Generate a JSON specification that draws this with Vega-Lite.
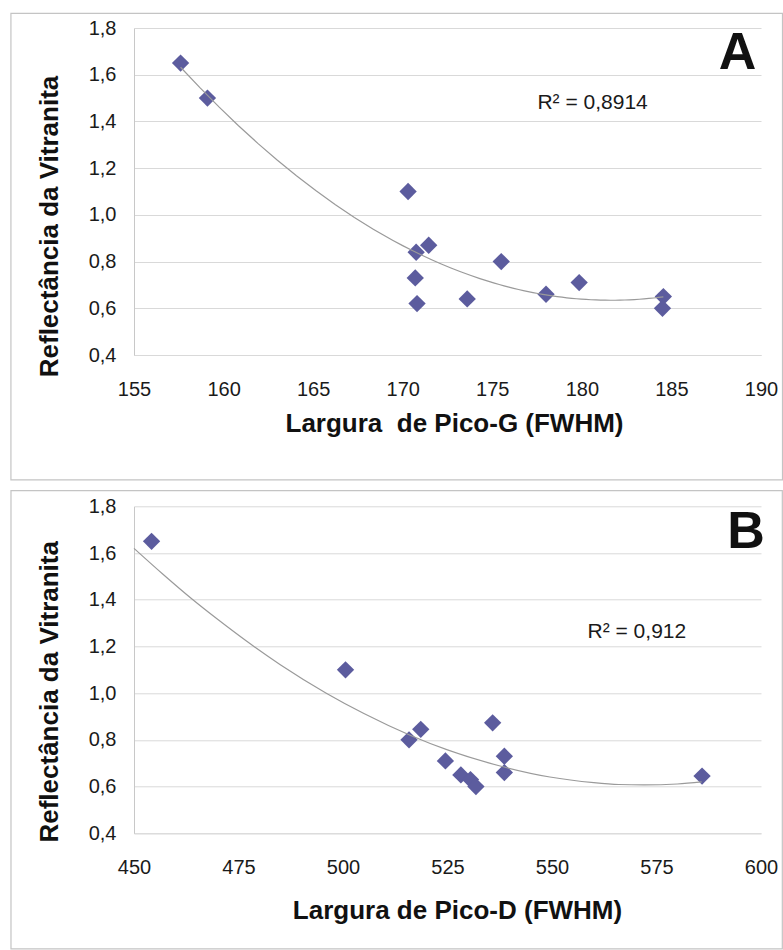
{
  "$schema": "https://vega.github.io/schema/vega-lite/v6.json",
  "padding": {"left": 10, "top": 12, "right": 1, "bottom": 1},
  "autosize": {"type": "pad"},
  "background": "white",
  "spacing": 151.3,
  "bounds": "flush",
  "config": {
    "view": {"stroke": null},
    "font": "Liberation Sans",
    "axisY": {
      "grid": true, "gridColor": "#d9d9d9", "gridWidth": 1,
      "domain": true, "domainColor": "#c8c8c8", "ticks": false,
      "labelPadding": 18, "labelFontSize": 20, "labelColor": "#1a1a1a", "labelFont": "Liberation Sans",
      "titleFontSize": 26, "titleFontWeight": "bold", "titleColor": "#111111", "titleFont": "Liberation Sans",
      "values": [0.4, 0.6, 0.8, 1.0, 1.2, 1.4, 1.6, 1.8],
      "labelExpr": "replace(format(datum.value, '.1f'), '.', ',')",
      "labelFlush": false, "labelOverlap": false
    },
    "axisX": {
      "grid": false, "domain": true, "domainColor": "#d9d9d9", "ticks": false,
      "labelPadding": 24, "labelFontSize": 20, "labelColor": "#1a1a1a", "labelFont": "Liberation Sans",
      "titleFontSize": 26, "titleFontWeight": "bold", "titleColor": "#111111", "titleFont": "Liberation Sans",
      "labelFlush": false, "labelOverlap": false, "format": "d"
    }
  },
  "datasets": {
    "A": [
      {"fwhm": 157.6, "ref": 1.65}, {"fwhm": 159.1, "ref": 1.50}, {"fwhm": 170.3, "ref": 1.10},
      {"fwhm": 170.75, "ref": 0.84}, {"fwhm": 171.45, "ref": 0.87}, {"fwhm": 170.7, "ref": 0.73},
      {"fwhm": 170.8, "ref": 0.62}, {"fwhm": 173.6, "ref": 0.64}, {"fwhm": 175.5, "ref": 0.80},
      {"fwhm": 178.0, "ref": 0.66}, {"fwhm": 179.85, "ref": 0.71}, {"fwhm": 184.55, "ref": 0.65},
      {"fwhm": 184.5, "ref": 0.60}
    ],
    "B": [
      {"fwhm": 454.2, "ref": 1.65}, {"fwhm": 500.6, "ref": 1.10}, {"fwhm": 515.8, "ref": 0.80},
      {"fwhm": 518.6, "ref": 0.845}, {"fwhm": 535.8, "ref": 0.873}, {"fwhm": 524.5, "ref": 0.71},
      {"fwhm": 528.2, "ref": 0.65}, {"fwhm": 530.5, "ref": 0.63}, {"fwhm": 531.8, "ref": 0.60},
      {"fwhm": 538.6, "ref": 0.73}, {"fwhm": 538.6, "ref": 0.66}, {"fwhm": 585.9, "ref": 0.645}
    ],
    "Btrend": [
      {"fwhm": 450, "ref": 1.62}, {"fwhm": 457, "ref": 1.508}, {"fwhm": 463.8, "ref": 1.404},
      {"fwhm": 470, "ref": 1.316}, {"fwhm": 476.9, "ref": 1.223}, {"fwhm": 485, "ref": 1.122},
      {"fwhm": 496, "ref": 1.0}, {"fwhm": 505, "ref": 0.913}, {"fwhm": 516.2, "ref": 0.819},
      {"fwhm": 525, "ref": 0.757}, {"fwhm": 537.6, "ref": 0.688}, {"fwhm": 549.5, "ref": 0.641},
      {"fwhm": 560, "ref": 0.617}, {"fwhm": 566, "ref": 0.609}, {"fwhm": 572, "ref": 0.607},
      {"fwhm": 580, "ref": 0.611}, {"fwhm": 585.8, "ref": 0.62}
    ],
    "one": [{"k": 1}]
  },
  "vconcat": [
    {
      "width": 627, "height": 327,
      "layer": [
        {
          "data": {"name": "one"},
          "mark": {"type": "rect", "fill": null, "stroke": "#c4c4c4", "strokeWidth": 1.2, "clip": false},
          "encoding": {
            "x": {"datum": 148.13, "type": "quantitative", "scale": {"domain": [155, 190], "nice": false, "zero": false}},
            "x2": {"datum": 191.2},
            "y": {"datum": 1.863, "type": "quantitative", "scale": {"domain": [0.4, 1.8], "nice": false, "zero": false}},
            "y2": {"datum": -0.135}
          }
        },
        {
          "data": {"name": "A"},
          "mark": {"type": "point", "shape": "diamond", "filled": true, "size": 300, "color": "#5c5c9e", "opacity": 1},
          "encoding": {
            "x": {"field": "fwhm", "type": "quantitative", "title": "Largura \u00a0de Pico-G (FWHM)",
                  "scale": {"domain": [155, 190], "nice": false, "zero": false},
                  "axis": {"values": [155, 160, 165, 170, 175, 180, 185, 190], "titleX": 320, "titleY": 76.7, "titleBaseline": "alphabetic"}},
            "y": {"field": "ref", "type": "quantitative", "title": "Reflectância da Vitranita",
                  "scale": {"domain": [0.4, 1.8], "nice": false, "zero": false},
                  "axis": {"titleX": -77, "titleY": 198, "titleBaseline": "alphabetic"}}
          }
        },
        {
          "data": {"name": "A"},
          "transform": [{"regression": "ref", "on": "fwhm", "method": "poly", "order": 2, "extent": [157.6, 184.55]}],
          "mark": {"type": "line", "color": "#9a9a9a", "strokeWidth": 1.2},
          "encoding": {
            "x": {"field": "fwhm", "type": "quantitative", "scale": {"domain": [155, 190], "nice": false, "zero": false}},
            "y": {"field": "ref", "type": "quantitative", "scale": {"domain": [0.4, 1.8], "nice": false, "zero": false}}
          }
        },
        {
          "data": {"name": "one"},
          "mark": {"type": "text", "text": "R² = 0,8914", "fontSize": 21, "align": "center", "baseline": "middle", "color": "#1a1a1a", "font": "Liberation Sans"},
          "encoding": {
            "x": {"datum": 180.6, "type": "quantitative"},
            "y": {"datum": 1.478, "type": "quantitative"}
          }
        },
        {
          "data": {"name": "one"},
          "mark": {"type": "text", "text": "A", "fontSize": 52, "fontWeight": "bold", "align": "center", "baseline": "alphabetic", "color": "#111111", "font": "Liberation Sans"},
          "encoding": {
            "x": {"datum": 188.69, "type": "quantitative"},
            "y": {"datum": 1.623, "type": "quantitative"}
          }
        }
      ]
    },
    {
      "width": 627, "height": 327,
      "layer": [
        {
          "data": {"name": "one"},
          "mark": {"type": "rect", "fill": null, "stroke": "#c4c4c4", "strokeWidth": 1.2, "clip": false},
          "encoding": {
            "x": {"datum": 420.57, "type": "quantitative", "scale": {"domain": [450, 600], "nice": false, "zero": false}},
            "x2": {"datum": 605.1},
            "y": {"datum": 1.867, "type": "quantitative", "scale": {"domain": [0.4, 1.8], "nice": false, "zero": false}},
            "y2": {"datum": -0.095}
          }
        },
        {
          "data": {"name": "B"},
          "mark": {"type": "point", "shape": "diamond", "filled": true, "size": 300, "color": "#5c5c9e", "opacity": 1},
          "encoding": {
            "x": {"field": "fwhm", "type": "quantitative", "title": "Largura de Pico-D (FWHM)",
                  "scale": {"domain": [450, 600], "nice": false, "zero": false},
                  "axis": {"values": [450, 475, 500, 525, 550, 575, 600], "titleX": 323, "titleY": 84.7, "titleBaseline": "alphabetic"}},
            "y": {"field": "ref", "type": "quantitative", "title": "Reflectância da Vitranita",
                  "scale": {"domain": [0.4, 1.8], "nice": false, "zero": false},
                  "axis": {"titleX": -77, "titleY": 185, "titleBaseline": "alphabetic"}}
          }
        },
        {
          "data": {"name": "Btrend"},
          "mark": {"type": "line", "color": "#9a9a9a", "strokeWidth": 1.2, "interpolate": "monotone"},
          "encoding": {
            "x": {"field": "fwhm", "type": "quantitative", "scale": {"domain": [450, 600], "nice": false, "zero": false}},
            "y": {"field": "ref", "type": "quantitative", "scale": {"domain": [0.4, 1.8], "nice": false, "zero": false}}
          }
        },
        {
          "data": {"name": "one"},
          "mark": {"type": "text", "text": "R² = 0,912", "fontSize": 21, "align": "center", "baseline": "middle", "color": "#1a1a1a", "font": "Liberation Sans"},
          "encoding": {
            "x": {"datum": 570.3, "type": "quantitative"},
            "y": {"datum": 1.26, "type": "quantitative"}
          }
        },
        {
          "data": {"name": "one"},
          "mark": {"type": "text", "text": "B", "fontSize": 52, "fontWeight": "bold", "align": "center", "baseline": "alphabetic", "color": "#111111", "font": "Liberation Sans"},
          "encoding": {
            "x": {"datum": 596.4, "type": "quantitative"},
            "y": {"datum": 1.62, "type": "quantitative"}
          }
        }
      ]
    }
  ]
}
